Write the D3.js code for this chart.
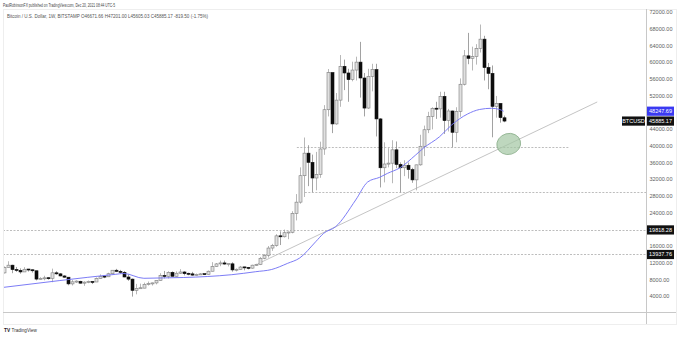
<!DOCTYPE html>
<html>
<head>
<meta charset="utf-8">
<script src="https://cdn.jsdelivr.net/npm/d3@7"></script>
<style>
  html, body { margin: 0; padding: 0; background: #fff; }
  svg { display: block; font-family: "Liberation Sans", Arial, sans-serif; }
</style>
</head>
<body>
<svg id="chart" width="679" height="337"></svg>
<script>
// Weekly BTCUSD (Bitstamp) candles, one per week starting Monday 2019-07-22
const firstWeek = "2019-07-22";
const opens = [10590,9530,10820,11380,10320,10140,9760,10400,10280,10040,8050,8160,8300,8220,9550,9300,8800,8500,6900,7390,7520,7070,7320,7390,
  7350,8180,8680,8600,9330,10170,9900,9670,8550,8040,5360,5830,5880,6770,6910,7130,7700,8900,8720,9670,8720,9450,9750,9340,9300,9000,9070,9280,9170,9930,11050,11680,11920,11650,11700,10250,10320,10930,10770,10670,11380,11500,13030,13750,15480,16060,18400,18180,19150,19260,23780,26470,
  32800,38200,36000,32250,33100,39200,48600,57500,45200,50900,59000,57400,55800,58100,60000,56200,49000,56600,58200,46400,34700,35600,35800,39000,35500,34700,35300,34250,31800,35400,39850,43800,47000,48900,48800,51800,46000,48300,43200,48200,54700,61500,60900,61300,63300,65500,58700,57300,49400,50100,46671.66];
const highs = [10680,11070,12320,11480,10950,10620,10900,10450,10350,10050,8520,8850,8430,10550,9930,9510,8980,8500,7850,7750,7640,7520,7700,7500,
  8450,9180,8750,9570,10190,10500,10250,9960,9190,8180,6900,6960,7200,7470,7200,7730,9460,10000,9930,9900,9900,10430,9950,9580,9780,9380,9480,9330,10110,12100,11900,12480,12470,11800,12080,10600,11190,10990,10950,11490,11720,13350,14050,15970,16480,18800,19480,19900,19420,24300,28400,34800,
  41950,40100,37850,38500,40950,49700,58350,57500,52600,61700,60600,58400,60100,61300,64850,57400,58400,59600,59600,46600,40800,39400,41300,41000,36000,36500,35950,34700,35450,42600,44800,48100,49200,50500,52900,52900,48800,48400,49200,56100,62900,67000,63700,64300,69000,66300,59800,59200,51900,50200,47201.00];
const lows = [9100,9380,10800,9460,9780,9330,9740,9850,9600,7730,7980,7760,7900,7300,9080,8710,8340,6560,6520,7120,6980,6430,7060,6860,
  7340,8120,8270,8530,9170,9730,9300,8470,7630,3850,4400,5680,5860,6500,6500,6780,7650,8200,8190,8680,8650,9300,8920,8950,8850,8880,9050,9020,9130,9900,10950,11130,11500,11080,9830,9880,10220,10150,10370,10530,11200,11400,12800,13200,14800,15800,16200,18000,17600,19000,22100,26100,
  27700,30300,28850,29300,32300,37800,47000,43000,45000,49300,53300,50500,55400,55600,51500,47000,48800,53000,42200,30000,31200,34800,31000,34600,28800,32700,32100,31100,29300,35200,37500,43000,43900,46400,46700,42800,43400,39600,40800,46900,54400,59500,58000,59400,62300,55600,53500,42000,46700,45500,45605.03];
const closes = [9530,10820,11380,10320,10140,9760,10400,10280,10040,8050,8160,8300,8220,9550,9300,8800,8500,6900,7390,7520,7070,7320,7390,7350,
  8180,8680,8600,9330,10170,9900,9670,8550,8040,5360,5830,5880,6770,6910,7130,7700,8900,8720,9670,8720,9450,9750,9340,9300,9000,9070,9280,9170,9930,11050,11680,11920,11650,11700,10250,10320,10930,10770,10670,11380,11500,13030,13750,15480,16060,18400,18180,19150,19260,23780,26470,32800,
  38200,36000,32250,33100,39200,48600,57500,45200,50900,59000,57400,55800,58100,60000,56200,49000,56600,58200,46400,34700,35600,35800,39000,35500,34700,35300,34250,31800,35400,39850,43800,47000,48900,48800,51800,46000,48300,43200,48200,54700,61500,60900,61300,63300,65500,58700,57300,49400,50100,46704.67,45885.17];

// Weekly moving average (blue line)
const maDates = ["2019-07-29","2019-11-04","2020-02-10","2020-02-24","2020-03-30","2020-04-27","2020-06-08","2020-07-20","2020-08-31","2020-10-12","2020-11-09","2020-12-07","2020-12-28","2021-01-25","2021-02-08","2021-03-01","2021-04-05","2021-04-26","2021-05-17","2021-05-31","2021-06-21","2021-07-19","2021-08-02","2021-08-30","2021-09-20","2021-10-18","2021-11-08","2021-11-29","2021-12-13","2021-12-20"];
const maValues = [6080,7700,9200,9390,8240,8310,8430,8670,9100,9820,10350,11830,13100,17000,19010,20600,26990,31300,32420,33380,34650,37760,39440,42150,44950,47580,48660,48950,48660,48247.69];

// Price axis and time axis labels
const priceTicks = d3.range(4000, 72001, 4000);
const timeTickDates = ["2019-08-01","2019-10-01","2020-01-01","2020-04-01","2020-07-01","2020-09-01","2021-01-01","2021-04-01","2021-06-01","2021-09-01","2022-01-01","2022-03-01","2022-06-01"];
const timeTickLabels = ["Aug","Oct","2020","Apr","Jul","Sep","2021","Apr","Jun","Sep","2022","Mar","Jun"];

// Drawn levels: horizontal support/resistance lines and a rising trendline
const levelValues = [39600, 28830, 19818.28, 13937.76];
const levelFrom = ["2020-12-23", "2021-01-06", null, null];
const levelTo = ["2022-04-14", null, null, null];
const levelTagged = [false, false, true, true];
const trendDates = ["2020-10-15", "2022-06-02"];
const trendValues = [11660, 50460];
const zoneDate = "2021-12-29";
const zoneValue = 40400;

const headerLine1 = "PaulRobinsonFX published on TradingView.com, Dec 20, 2021 08:44 UTC-5";
const headerLine2 = "Bitcoin / U.S. Dollar, 1W, BITSTAMP  O46671.66  H47201.00  L45605.03  C45885.17  -819.50 (-1.75%)";

const parse = d3.utcParse("%Y-%m-%d");
const start = parse(firstWeek);
const candles = opens.map((o, i) => ({
  date: d3.utcDay.offset(start, 7 * i),
  o, h: highs[i], l: lows[i], c: closes[i]
}));

const svg = d3.select("#chart");
const P = { left: 3, right: 646, top: 9, bottom: 312, axisBottom: 324 };

const x = d3.scaleUtc()
  .domain([parse("2020-01-01"), parse("2021-01-01")])
  .range([93, 302]);
const y = d3.scaleLinear().domain([0, 72000]).range([312.7, 12]);

// panel frame
svg.append("rect").attr("x", P.left + 0.5).attr("y", P.top + 0.5)
  .attr("width", 676 - P.left).attr("height", P.axisBottom - P.top)
  .attr("fill", "none").attr("stroke", "#eeeeee").attr("stroke-width", 1);

svg.append("defs").append("clipPath").attr("id", "plotClip")
  .append("rect").attr("x", P.left + 1).attr("y", P.top + 1)
  .attr("width", P.right - P.left - 1).attr("height", P.bottom - P.top - 1);

const plot = svg.append("g").attr("clip-path", "url(#plotClip)");

// horizontal levels
levelValues.forEach((v, i) => {
  const x0 = levelFrom[i] ? x(parse(levelFrom[i])) : P.left;
  const x1 = levelTo[i] ? x(parse(levelTo[i])) : P.right;
  const yy = Math.round(y(v)) + 0.5;
  plot.append("line").attr("x1", x0).attr("x2", x1).attr("y1", yy).attr("y2", yy)
    .attr("stroke", "#a0a0a0").attr("stroke-width", 0.7).attr("stroke-dasharray", "2,1.5");
});

// trendline
plot.append("line")
  .attr("x1", x(parse(trendDates[0]))).attr("y1", y(trendValues[0]))
  .attr("x2", x(parse(trendDates[1]))).attr("y2", y(trendValues[1]))
  .attr("stroke", "#bdbdbd").attr("stroke-width", 0.9);

// candles
const bodyW = 3;
const cg = plot.append("g");
candles.forEach(d => {
  const cx = Math.round(x(d.date)) + 0.5;
  const up = d.c >= d.o;
  cg.append("line").attr("x1", cx).attr("x2", cx)
    .attr("y1", y(d.h)).attr("y2", y(d.l))
    .attr("stroke", up ? "#a6a6a6" : "#8a8a8a").attr("stroke-width", 0.8);
  const top = y(Math.max(d.o, d.c)), bot = y(Math.min(d.o, d.c));
  const h = Math.max(1, bot - top);
  cg.append("rect").attr("x", cx - bodyW / 2).attr("y", top - (h - (bot - top)) / 2)
    .attr("width", bodyW).attr("height", h)
    .attr("fill", up ? "#e0e0e0" : "#0d0d0d")
    .attr("stroke", up ? "#7d7d7d" : "#0d0d0d").attr("stroke-width", 0.6);
});

// moving average
const maLine = d3.line()
  .x((d, i) => x(parse(maDates[i])))
  .y(d => y(d))
  .curve(d3.curveMonotoneX);
plot.append("path").datum(maValues).attr("d", maLine)
  .attr("fill", "none").attr("stroke", "#7575f4").attr("stroke-width", 0.95);

// highlighted zone
plot.append("ellipse")
  .attr("cx", x(parse(zoneDate))).attr("cy", y(zoneValue))
  .attr("rx", 12).attr("ry", 10.5)
  .attr("transform", `rotate(-15,${x(parse(zoneDate))},${y(zoneValue)})`)
  .attr("fill", "#a3c6a3").attr("fill-opacity", 0.7)
  .attr("stroke", "#86aa86").attr("stroke-width", 0.7);

// axis lines
svg.append("line").attr("x1", P.right + 0.5).attr("x2", P.right + 0.5)
  .attr("y1", P.top).attr("y2", P.axisBottom).attr("stroke", "#c8c8c8");
svg.append("line").attr("x1", P.left).attr("x2", 676)
  .attr("y1", P.bottom + 0.5).attr("y2", P.bottom + 0.5).attr("stroke", "#c8c8c8");

// price axis
const yAxis = svg.append("g").attr("transform", `translate(${P.right},0)`)
  .call(d3.axisRight(y).tickValues(priceTicks).tickFormat(d3.format(".2f")).tickSize(0).tickPadding(3.5));
yAxis.select(".domain").remove();
yAxis.selectAll("text").attr("font-size", 5.5).attr("fill", "#606060").attr("font-family", "Liberation Sans, Arial, sans-serif");

// time axis
svg.append("defs").append("clipPath").attr("id", "timeClip")
  .append("rect").attr("x", P.left).attr("y", P.bottom).attr("width", P.right - P.left).attr("height", 14);
const xAxis = svg.append("g").attr("transform", `translate(0,${P.bottom})`).attr("clip-path", "url(#timeClip)")
  .call(d3.axisBottom(x).tickValues(timeTickDates.map(parse)).tickFormat((d, i) => timeTickLabels[i]).tickSize(0).tickPadding(3.5));
xAxis.select(".domain").remove();
xAxis.selectAll("text").attr("font-size", 5.5).attr("fill", "#606060").attr("font-family", "Liberation Sans, Arial, sans-serif")
  .attr("font-weight", (d, i) => /^\d+$/.test(timeTickLabels[i]) ? 600 : 400);

// price tags on the axis
function tag(value, text, bg, xLeft, width) {
  const yy = y(value);
  svg.append("rect").attr("x", xLeft).attr("y", yy - 4.6).attr("width", width).attr("height", 9.2)
    .attr("fill", bg);
  svg.append("text").attr("x", xLeft + width / 2).attr("y", yy).attr("dy", "0.35em")
    .attr("text-anchor", "middle").attr("font-size", 5.5).attr("fill", "#fff").text(text);
}
const fmt = d3.format(".2f");
levelValues.forEach((v, i) => { if (levelTagged[i]) tag(v, fmt(v), "#111", P.right + 1, 27); });
tag(maValues[maValues.length - 1], fmt(maValues[maValues.length - 1]), "#3a3af2", P.right + 1, 27);
const lastClose = closes[closes.length - 1];
tag(lastClose, fmt(lastClose), "#111", P.right + 1, 27);
tag(lastClose, "BTCUSD", "#111", P.right - 24, 23);

// header
svg.append("text").attr("x", 3).attr("y", 6.5).attr("font-size", 4.6).attr("fill", "#444")
  .attr("textLength", 112).attr("lengthAdjust", "spacingAndGlyphs").text(headerLine1);
svg.append("text").attr("x", 7).attr("y", 17.5).attr("font-size", 4.6).attr("fill", "#555")
  .attr("textLength", 201).attr("lengthAdjust", "spacingAndGlyphs").text(headerLine2);

// footer brand
svg.append("text").attr("x", 4).attr("y", 331.5).attr("font-size", 4.8).attr("font-weight", 700).attr("fill", "#222").text("TV");
svg.append("text").attr("x", 11.5).attr("y", 331.5).attr("font-size", 4.6).attr("fill", "#333").text("TradingView");
</script>
</body>
</html>
